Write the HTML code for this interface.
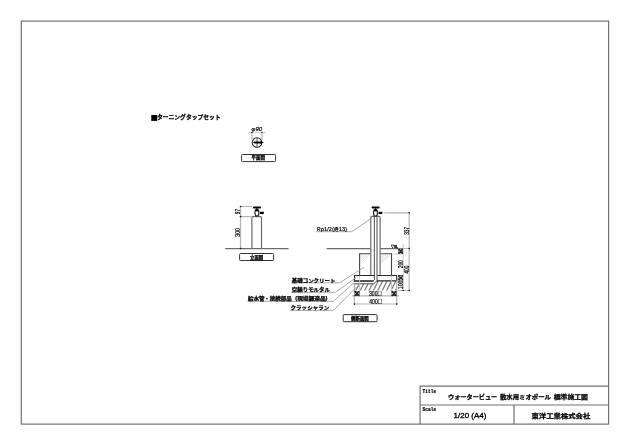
<!DOCTYPE html>
<html lang="ja">
<head>
<meta charset="utf-8">
<title>ウォータービュー 散水用ミオポール 標準施工図</title>
<style>
html,body{margin:0;padding:0;background:#fff;overflow:hidden}
body{width:630px;height:445px;font-family:"Liberation Sans","Noto Sans CJK JP",sans-serif}
svg{display:block;position:absolute;left:0;top:0;will-change:transform}
.f{fill:none;stroke:#727272;stroke-width:1.2}
.o{fill:none;stroke:#6c6c6c;stroke-width:1.2}
.c{fill:none;stroke:#444;stroke-width:1.1}
.k{fill:none;stroke:#2a2a2a;stroke-width:1.1}
.d{fill:none;stroke:#b4b4b4;stroke-width:1.2}
.ld{fill:none;stroke:#9c9c9c;stroke-width:0.9}
.e{fill:none;stroke:#c4c4c4;stroke-width:0.9}
.p{fill:none;stroke:#3a3a3a;stroke-width:0.9}
.h{fill:none;stroke:#808080;stroke-width:1.3}
.g{fill:none;stroke:#c8c8c8;stroke-width:0.6}
.bx{fill:#fff;stroke:#333;stroke-width:1}
.dot{fill:#111}
text{font-family:"Liberation Sans","Noto Sans CJK JP",sans-serif;fill:#000}
.j{font-family:"Noto Sans CJK JP","Liberation Sans",sans-serif}
.m{font-family:"Liberation Mono","Noto Sans CJK JP",monospace}
.b{font-weight:700}
.dm{font-size:6.3px;fill:#000;stroke:#000;stroke-width:0.2}
.lb{font-size:4.9px;font-weight:700;stroke:#000;stroke-width:0.25}
.bt{font-size:4.4px;font-weight:700;stroke:#000;stroke-width:0.25}
</style>
</head>
<body>
<svg width="630" height="445" viewBox="0 0 630 445">
<rect x="0" y="0" width="630" height="445" fill="#fff"/>

<!-- frame -->
<g id="frame">
<rect class="f" x="21.3" y="21.1" width="587.3" height="403"/>
<path class="f" d="M420.1 424V386.2H608.6M420.1 405H608.6M514 405V424"/>
<text class="b m" x="422.6" y="393" font-size="4.7" textLength="13.6" lengthAdjust="spacingAndGlyphs" stroke="#000" stroke-width="0.2">Title</text>
<text class="b m" x="422.6" y="411.4" font-size="4.7" textLength="13.6" lengthAdjust="spacingAndGlyphs" stroke="#000" stroke-width="0.2">Scale</text>
<text class="b" font-size="5.8" stroke="#000" stroke-width="0.25"><tspan x="448" y="398.7" textLength="49.3" lengthAdjust="spacingAndGlyphs">ウォータービュー</tspan><tspan> </tspan><tspan x="499.9" y="398.7" textLength="51.1" lengthAdjust="spacingAndGlyphs">散水用ミオポール</tspan><tspan> </tspan><tspan x="553.7" y="398.7" textLength="34.3" lengthAdjust="spacingAndGlyphs">標準施工図</tspan></text>
<text x="453.6" y="417.9" font-size="6.9" textLength="32.7" lengthAdjust="spacingAndGlyphs" stroke="#000" stroke-width="0.3">1/20 (A4)</text>
<text class="b" x="531.5" y="417.5" font-size="6.2" textLength="58.8" lengthAdjust="spacingAndGlyphs" stroke="#000" stroke-width="0.25">東洋工業株式会社</text>
</g>

<!-- heading -->
<text class="b" x="151.1" y="119.4" font-size="6.1" stroke="#000" stroke-width="0.25"><tspan class="j" x="150.4" y="119.8" font-size="7.4" stroke-width="0">■</tspan><tspan x="156.9" y="119.4" textLength="63.8" lengthAdjust="spacingAndGlyphs">ターニングタップセット</tspan></text>

<!-- plan view -->
<g id="plan">
<path class="e" d="M248.3 132.4H265.9"/><path class="d" d="M251.9 132.4V139.5M262 132.4V139.5"/>
<circle class="dot" cx="251.9" cy="132.4" r="0.7"/><circle class="dot" cx="262" cy="132.4" r="0.7"/>
<text class="dm" x="251.6" y="131.4" style="font-size:5.6px" textLength="10.4" lengthAdjust="spacingAndGlyphs" font-style="italic">φ90</text>
<circle class="k" cx="257" cy="142.5" r="4.8"/>
<path class="o" d="M257 138V147M252.5 142.5H261.5"/>
<path d="M254.8 142.5H261" stroke="#000" stroke-width="2.2" stroke-linecap="round" fill="none"/>
<path d="M260.6 140.9L263.8 142.5L260.6 144.1Z" fill="#000"/>
<rect class="bx" x="241.6" y="154.5" width="34" height="7.1" rx="0.9"/>
<text class="bt" x="258.2" y="159.4" text-anchor="middle">平面図</text>
</g>

<!-- elevation view -->
<g id="elev">
<path class="o" d="M225.2 248.6H288.6"/>
<path class="o" d="M251.9 248.5V217.6Q251.9 216.6 252.9 216.6H260.5Q261.5 216.6 261.5 217.6V248.5"/>
<path class="d" d="M240.5 206.5V248.5M240.5 206.5H252.6M240.5 216.6H251.5"/>
<circle class="dot" cx="240.5" cy="206.5" r="0.8"/><circle class="dot" cx="240.5" cy="216.6" r="0.8"/><circle class="dot" cx="240.5" cy="248.5" r="0.8"/>
<text class="dm" transform="translate(239.7 214.3) rotate(-90)" textLength="5.5" lengthAdjust="spacingAndGlyphs">97</text>
<text class="dm" transform="translate(239.7 236.7) rotate(-90)" textLength="8.6" lengthAdjust="spacingAndGlyphs">300</text>
<!-- tap -->
<g transform="translate(-118.6 0)">
<path d="M372.5 207.5H378.7" stroke="#000" stroke-width="1.9" stroke-linecap="round" fill="none"/>
<ellipse cx="375.5" cy="212.8" rx="2" ry="3.4" fill="#fff" stroke="#222" stroke-width="1.2"/>
<path d="M375.5 207.5V209.3L374.1 210.9H376.9L375.5 209.3" stroke="#000" stroke-width="0.8" fill="#000" stroke-linejoin="round"/>
<path d="M378.6 212.9H382.4" stroke="#000" stroke-width="2.3" fill="none"/>
</g>
<rect class="bx" x="239.6" y="253.5" width="34" height="7" rx="0.9"/>
<text class="bt" x="256.6" y="258.5" text-anchor="middle">立面図</text>
</g>

<!-- section view -->
<g id="sect">
<!-- ground line -->
<path class="o" d="M326.6 248.6H370.7M380.2 248.6H398"/>
<!-- crusher run hatch -->
<clipPath id="cr"><path d="M354.4 283.8H373.2L376.6 280.7H396.7V290.5H354.4Z"/></clipPath>
<g clip-path="url(#cr)" class="h">
<path d="M351.2 291L356.7 280M355.6 291L361.1 280M360 291L365.5 280M364.4 291L369.9 280M368.8 291L374.3 280M373.2 291L378.7 280M377.6 291L383.1 280M382 291L387.5 280M386.4 291L391.9 280M390.8 291L396.3 280M395.2 291L400.7 280"/>
</g>
<!-- concrete block -->
<path class="c" d="M359.6 275V253.8H370.7M380.2 253.8H391.5V275"/>
<!-- glass hatch in concrete -->
<path class="g" d="M360.2 257.5L363.5 254.4M360.2 259.5L365.6 254.4M360.2 261.5L367.7 254.6M360.4 263.3L368.6 255.6M381 257.5L384.3 254.4M381 259.5L386.4 254.4M381 261.5L388.5 254.6M381.2 263.3L389.4 255.6"/>
<path class="g" d="M368 272.5L369 271.5M389.5 272.5L390.5 271.5"/>
<!-- post -->
<path class="o" d="M370.8 275V217.4Q370.8 216.4 371.8 216.4H379.1Q380.1 216.4 380.1 217.4V275"/>
<!-- mortar -->
<path class="k" d="M374.3 275.45H354.5V280.85H373.8M377.2 275.45H396.7V280.85H377"/>
<!-- inner pipe -->
<path class="o" d="M374.4 217V275M377 217V275" stroke-width="0.9"/>
<path class="p" d="M374.4 275V279.8L372.6 281.4H353.4M377 275V280.8L373.8 283.8H353.4"/>
<!-- tap -->
<path d="M372.5 207.5H378.7" stroke="#000" stroke-width="1.9" stroke-linecap="round" fill="none"/>
<ellipse cx="375.5" cy="212.8" rx="2" ry="3.4" fill="#fff" stroke="#222" stroke-width="1.2"/>
<path d="M375.5 207.5V209.3L374.1 210.9H376.9L375.5 209.3" stroke="#000" stroke-width="0.8" fill="#000" stroke-linejoin="round"/>
<path d="M378.6 212.9H382.4" stroke="#000" stroke-width="2.3" fill="none"/>
<!-- dims right -->
<path class="d" d="M384.3 212.8H409.2M409.2 212.8V290.5M398 248.5H409.2M398 290.5H409.2"/>
<path class="e" d="M392.5 254H403.2M403.2 244V290.5M397.3 275.2H403.2"/>
<circle class="dot" cx="409.2" cy="212.8" r="0.8"/><circle class="dot" cx="409.2" cy="248.5" r="0.8"/><circle class="dot" cx="409.2" cy="290.5" r="0.8"/><circle class="dot" cx="403.2" cy="290.5" r="0.8"/>
<text class="dm" transform="translate(409 234.8) rotate(-90)" textLength="7.8" lengthAdjust="spacingAndGlyphs">337</text>
<text class="dm" transform="translate(409 273.6) rotate(-90)" textLength="8" lengthAdjust="spacingAndGlyphs">400</text>
<text class="dm" transform="translate(402.8 253.8) rotate(-90)" textLength="5.3" lengthAdjust="spacingAndGlyphs" stroke-width="0">50</text>
<text class="dm" transform="translate(402.6 268.3) rotate(-90)" textLength="8.1" lengthAdjust="spacingAndGlyphs">200</text>
<text class="dm" transform="translate(403 289.2) rotate(-90)" textLength="8.5" lengthAdjust="spacingAndGlyphs">100</text>
<text class="dm" transform="translate(403 280.5) rotate(-90)" textLength="5.6" lengthAdjust="spacingAndGlyphs" stroke-width="0">50</text>
<path class="k" d="M398.6 248.6L402.8 253.6M402.8 248.6L398.6 253.6M398.8 275.4L403 280.4M403 275.4L398.8 280.4" stroke-width="0.5"/>
<text x="391" y="248.4" font-size="3.6" class="b" textLength="6.9" lengthAdjust="spacingAndGlyphs" stroke="#000" stroke-width="0.3">▽GL</text>
<!-- dims bottom -->
<path class="d" d="M352 295.9H399M354.4 283.6V304.8M396.7 280.6V304.8M354.4 304H396.7"/>
<path class="e" d="M359.6 275.6V296.6M391.5 275.6V296.6"/>
<circle class="dot" cx="354.4" cy="304" r="0.8"/><circle class="dot" cx="396.7" cy="304" r="0.8"/>
<path class="k" d="M354.6 291.2L359.4 296M359.4 291.2L354.6 296M391.7 291.2L396.5 296M396.5 291.2L391.7 296" stroke-width="0.5"/>
<text class="dm" x="354.5" y="295.8" textLength="5" lengthAdjust="spacingAndGlyphs" stroke-width="0">50</text>
<text class="dm" x="369" y="295.8" textLength="12.7" lengthAdjust="spacingAndGlyphs">300<tspan class="j b" font-size="5" dy="-0.45">□</tspan></text>
<text class="dm" x="391.6" y="295.8" textLength="5" lengthAdjust="spacingAndGlyphs" stroke-width="0">50</text>
<text class="dm" x="369.3" y="303.9" textLength="12.4" lengthAdjust="spacingAndGlyphs">400<tspan class="j b" font-size="5" dy="-0.45">□</tspan></text>
<!-- leaders -->
<path class="ld" d="M316.1 231.7H351.7L370.6 218.9"/>
<text x="317" y="230.6" font-size="5" textLength="30" lengthAdjust="spacing" stroke="#000" stroke-width="0.22">Rp1/2(<tspan font-size="4.4">呼</tspan>13)</text>
<path class="ld" d="M291.5 282.8H339.6L364 267.3"/>
<path class="ld" d="M291.5 292.3H335.5L356 277.6"/>
<path class="ld" d="M247.5 301.3H333.5L353.6 283"/>
<path class="ld" d="M290 310.4H333.5L356.5 287"/>
<text class="lb" x="291.8" y="281.8" textLength="43.6" lengthAdjust="spacingAndGlyphs">基礎コンクリート</text>
<text class="lb" x="291.7" y="291.2" textLength="38.4" lengthAdjust="spacingAndGlyphs">空練りモルタル</text>
<text class="lb"><tspan x="248" y="299.9" textLength="43.6" lengthAdjust="spacingAndGlyphs">給水管・接続部品</tspan><tspan> </tspan><tspan x="295.3" y="299.9" textLength="32.2" lengthAdjust="spacingAndGlyphs">(現場調達品)</tspan></text>
<text class="lb" x="290.6" y="308.8" textLength="38.6" lengthAdjust="spacingAndGlyphs">クラッシャラン</text>
<rect class="bx" x="343.2" y="314.6" width="33.9" height="7.1" rx="0.9"/>
<text class="bt" x="359.9" y="319.6" text-anchor="middle">側断面図</text>
</g>
</svg>
</body>
</html>
